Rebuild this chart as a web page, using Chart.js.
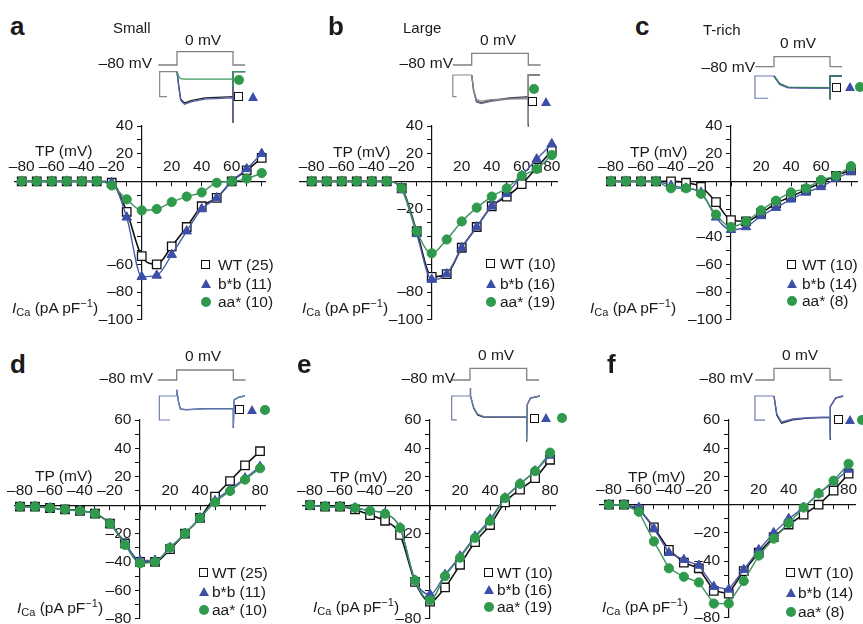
<!DOCTYPE html>
<html>
<head>
<meta charset="utf-8">
<script src="https://cdn.jsdelivr.net/npm/chart.js@4.4.1/dist/chart.umd.min.js"></script>
<style>
html, body { margin: 0; padding: 0; background: #fff; overflow: hidden; }
#fig { position: relative; width: 863px; height: 624px; overflow: hidden; font-family: 'Liberation Sans', Arial, sans-serif; color: #1a1a1a; }
#fig canvas { position: absolute; }
.t { position: absolute; white-space: nowrap; line-height: 1; }
.sq { position: absolute; width: 7px; height: 7px; border: 1.3px solid #111; background: #fff; }
.tri { position: absolute; width: 0; height: 0; border-left: 5.5px solid transparent; border-right: 5.5px solid transparent; border-bottom: 9px solid #3d4ea8; }
.dot { position: absolute; width: 10px; height: 10px; border-radius: 50%; background: #2f9a4b; }
</style>
</head>
<body>
<div id="fig"></div>
<script>
// test potentials (mV)
const voltages = [-80, -70, -60, -50, -40, -30, -20, -10, 0, 10, 20, 30, 40, 50, 60, 70, 80];

// a - Small
const smallWT = [0, 0, 0, 0, 0, 0, -1, -22, -54, -60, -47, -33, -18, -12, 0, 8, 17];
const smallBB = [0, 0, 0, 0, 0, 0, -1, -26, -69, -68, -53, -36, -20, -12, 0, 9, 20];
const smallAA = [0, 0, 0, 0, 0, 0, -3, -13, -21, -20, -15, -11, -8, -1, 0, 2, 6];
// b - Large
const largeWT = [0, 0, 0, 0, 0, 0, -5, -36, -69, -67, -48, -33, -18, -11, -2, 10, 22];
const largeBB = [0, 0, 0, 0, 0, 0, -6, -38, -71, -67, -48, -33, -18, -9, 4, 16, 27];
const largeAA = [0, 0, 0, 0, 0, 0, -5, -36, -52, -42, -29, -19, -11, -5, 4, 9, 19];
// c - T-rich
const trichWT = [0, 0, 0, 0, 0, -1, -4, -15, -28, -29, -23, -16, -11, -6, -1, 4, 8];
const trichBB = [0, 0, 0, 0, -3, -5, -8, -26, -35, -33, -25, -19, -13, -8, -4, 2, 7];
const trichAA = [0, 0, 0, 0, -5, -5, -9, -24, -33, -29, -21, -14, -8, -5, 1, 4, 11];
// d
const dWT = [-1, -1, -2, -3, -4, -6, -13, -27, -40, -40, -31, -20, -9, 6, 17, 28, 38];
const dBB = [-1, -1, -2, -3, -4, -6, -13, -27, -39, -39, -30, -20, -9, 3, 11, 19, 27];
const dAA = [-1, -1, -2, -3, -4, -6, -13, -28, -41, -40, -30, -20, -9, 2, 10, 18, 26];
// e
const eWT = [0, -1, -1, -3, -7, -11, -21, -54, -68, -58, -42, -26, -14, 2, 11, 19, 32];
const eBB = [0, -1, -1, -2, -4, -6, -16, -53, -63, -49, -36, -22, -10, 5, 15, 24, 35];
const eAA = [0, -1, -1, -2, -4, -6, -16, -53, -67, -50, -37, -23, -11, 5, 15, 24, 37];
// f
const fWT = [0, 0, -3, -16, -32, -41, -45, -61, -63, -47, -34, -23, -14, -7, 0, 10, 22];
const fBB = [0, 0, -2, -17, -34, -39, -43, -58, -60, -46, -32, -20, -10, -2, 8, 16, 25];
const fAA = [0, 0, -5, -26, -45, -51, -55, -70, -70, -54, -36, -24, -13, -2, 8, 17, 29];

// tick labels that are printed (others hidden behind data in the original)
const xTicksA = [-80, -60, -40, -20, 20, 40, 60];
const xTicksB = [-80, -60, -40, -20, 20, 40, 60, 80];
const xTicksC = [-80, -60, -40, -20, 20, 40, 60];
const xTicksD = [-80, -60, -40, -20, 20, 40, 80];
const xTicksE = [-80, -60, -40, -20, 20, 40, 80];
const xTicksF = [-80, -60, -40, -20, 20, 40, 80];
const yTicksA = [40, 20, -60, -80, -100];
const yTicksB = [40, 20, -20, -80, -100];
const yTicksC = [40, 20, -40, -60, -80, -100];
const yTicksD = [60, 40, 20, -20, -40, -60, -80];
const yTicksE = [60, 40, 20, -20, -80];
const yTicksF = [60, 40, 20, -20, -40, -80];

const legendA = ['WT (25)', 'b*b (11)', 'aa* (10)'];
const legendB = ['WT (10)', 'b*b (16)', 'aa* (19)'];
const legendC = ['WT (10)', 'b*b (14)', 'aa* (8)'];

// inset: voltage protocol (ms, mV)
const protoTime = [-10, 0, 0, 30, 30, 36.5];
const protoVolt = [-80, -80, 0, 0, -80, -80];

// inset current traces (ms, normalised current)
const aBracketT = [0, -9.3, -9.3, -5.4];
const aBracketI = [0, 0, -1, -1];
const aTraceT = [0, 1, 2, 4, 8, 15, 30, 30, 30, 36.5];
const aTraceWT = [0, -0.6, -1.1, -1.25, -1.15, -1.05, -1.0, -2.05, 0, 0];
const aTraceBB = [0, -0.65, -1.15, -1.3, -1.2, -1.1, -1.05, -2.0, 0, 0];
const aTraceAA = [0, -0.2, -0.28, -0.3, -0.3, -0.3, -0.3, -0.6, 0, 0];

const bBracketT = [0, -10, -10, -8];
const bBracketI = [0, 0, -1, -1];
const bTraceT = [0, 1, 2.5, 5, 10, 20, 30, 30, 30, 36.2];
const bTraceWT = [0, -0.7, -1.2, -1.28, -1.18, -1.06, -1.0, -2.38, 0, 0];
const bTraceBB = [0, -0.72, -1.24, -1.32, -1.22, -1.1, -1.04, -2.3, 0, 0];
const bTraceAA = [0, -0.66, -1.12, -1.2, -1.14, -1.1, -1.1, -2.2, 0, 0];

const cBracketT = [0, -10.2, -10.2, -3.2];
const cBracketI = [0, 0, -1.97, -1.97];
const cTraceT = [0, 3, 7.5, 15, 30, 30, 30, 36.3];
const cTraceWT = [0, -0.7, -1.0, -1.02, -1.05, -2.1, 0, 0];
const cTraceBB = [0, -0.75, -1.05, -1.07, -1.08, -2.0, 0, 0];
const cTraceAA = [0, -0.68, -0.98, -1.0, -1.02, -2.0, 0, 0];

const dBracketT = [0, -9.2, -9.2, -3.5];
const dBracketI = [0, 0, -1.95, -1.95];
const dTraceT = [0, 0, 1, 2, 5, 15, 30, 30, 30.5, 33, 36.2];
const dTraceWT = [0, 0.5, -0.5, -1.05, -1.1, -1.02, -1.0, -2.6, -0.3, -0.1, 0];
const dTraceBB = [0, 0.5, -0.55, -1.08, -1.12, -1.05, -1.02, -2.5, -0.3, -0.1, 0];

const eBracketT = [0, -9.7, -9.7, -7];
const eBracketI = [0, 0, -1.14, -1.14];
const eTraceT = [0, 0, 0.5, 2, 4, 7, 30, 30, 30.3, 32, 37];
const eTraceWT = [0, 0.38, 0, -0.6, -0.9, -1.0, -1.0, -2.18, -0.4, -0.1, 0];
const eTraceBB = [0, 0.38, 0, -0.55, -0.86, -0.97, -0.98, -2.1, -0.4, -0.1, 0];

const fBracketT = [0, -10.2, -10.2, -4.8];
const fBracketI = [0, 0, -1.13, -1.13];
const fTraceT = [0, 1.5, 4.1, 10, 18, 30, 30, 30.3, 33, 37];
const fTraceWT = [0, -0.9, -1.28, -1.12, -1.04, -1.0, -2.07, -0.5, -0.1, 0];
const fTraceBB = [0, -0.85, -1.22, -1.08, -1.02, -0.98, -2.0, -0.5, -0.1, 0];

const FONT = "'Liberation Sans', Arial, sans-serif";
const fig = document.getElementById('fig');

const colors = {
    wt: '#111111',
    bb: '#3d4ea8',
    bbLine: '#4d5bab',
    aa: '#2f9a4b',
    aaLine: '#3f9163',
    proto: '#808080',
};

function fmt(v) {
    return v < 0 ? '\u2013' + Math.abs(v) : String(v);
}

function addCanvas(x, y, w, h) {
    const c = document.createElement('canvas');
    c.width = w;
    c.height = h;
    c.style.left = x + 'px';
    c.style.top = y + 'px';
    c.style.width = w + 'px';
    c.style.height = h + 'px';
    fig.appendChild(c);
    return c;
}

function series(values, kind, smooth) {
    const isWT = kind === 'wt';
    const col = isWT ? colors.wt : kind === 'bb' ? colors.bb : colors.aa;
    return {
        data: voltages.map((v, i) => ({ x: v, y: values[i] })),
        showLine: true,
        borderColor: isWT ? colors.wt : kind === 'bb' ? colors.bbLine : colors.aaLine,
        borderWidth: isWT ? 1.6 : 1.4,
        cubicInterpolationMode: smooth ? 'monotone' : 'default',
        tension: 0,
        pointStyle: isWT ? 'rect' : kind === 'bb' ? 'triangle' : 'circle',
        pointRadius: isWT ? 6 : kind === 'bb' ? 5.5 : 4.6,
        pointBackgroundColor: isWT ? '#fff' : col,
        pointBorderColor: col,
        pointBorderWidth: isWT ? 1.3 : 1,
        clip: false,
    };
}

function ivChart(p) {
    const padL = 45, padT = 22, padR = 25, padB = 12;
    const [l, t, r, b] = p.area;
    const canvas = addCanvas(l - padL, t - padT, r - l + padL + padR, b - t + padT + padB);
    const tickFont = { family: FONT, size: 15.5 };
    new Chart(canvas, {
        type: 'scatter',
        data: {
            datasets: [
                series(p.aa, 'aa', p.smooth),
                series(p.bb, 'bb', p.smooth),
                series(p.wt, 'wt', p.smooth),
            ],
        },
        options: {
            responsive: false,
            animation: false,
            devicePixelRatio: 1,
            layout: { padding: { left: padL, top: padT, right: padR, bottom: padB } },
            plugins: { legend: { display: false }, tooltip: { enabled: false } },
            scales: {
                x: {
                    type: 'linear',
                    position: { y: 0 },
                    min: p.xr[0],
                    max: p.xr[1],
                    border: { color: '#111', width: 1.2 },
                    grid: { drawOnChartArea: false, drawTicks: true, tickLength: 4, color: '#111' },
                    ticks: {
                        stepSize: 10,
                        includeBounds: false,
                        autoSkip: false,
                        maxRotation: 0,
                        padding: -28,
                        color: '#1a1a1a',
                        font: tickFont,
                        callback: (v) => (p.xTicks.includes(v) ? fmt(v) : ''),
                    },
                },
                y: {
                    type: 'linear',
                    position: { x: 0 },
                    min: p.yr[0],
                    max: p.yr[1],
                    border: { color: '#111', width: 1.2 },
                    grid: { drawOnChartArea: false, drawTicks: true, tickLength: 4, color: '#111' },
                    ticks: {
                        stepSize: 10,
                        includeBounds: false,
                        autoSkip: false,
                        color: '#1a1a1a',
                        font: tickFont,
                        callback: (v) => (p.yTicks.includes(v) ? fmt(v) + '  ' : ''),
                    },
                },
            },
        },
    });
}

function traceSet(times, values, color, axis, width) {
    return {
        data: times.map((tm, i) => ({ x: tm, y: values[i] })),
        showLine: true,
        borderColor: color,
        borderWidth: width || 1.3,
        pointRadius: 0,
        tension: 0,
        yAxisID: axis,
        clip: false,
    };
}

function insetChart(a, traces) {
    const canvas = addCanvas(a.l, a.t, a.r - a.l, a.b - a.t);
    const pxPerMs = (a.tDown - a.tUp) / 30;
    const pxPerMv = (a.vBase - a.vStep) / 80;
    new Chart(canvas, {
        type: 'scatter',
        data: {
            datasets: [traceSet(protoTime, protoVolt, colors.proto, 'v', 1.3)].concat(
                traces.map((tr) => traceSet(tr[0], tr[1], tr[2], 'i', tr[3]))
            ),
        },
        options: {
            responsive: false,
            animation: false,
            devicePixelRatio: 1,
            layout: { padding: 0 },
            plugins: { legend: { display: false }, tooltip: { enabled: false } },
            scales: {
                x: { type: 'linear', display: false, min: (a.l - a.tUp) / pxPerMs, max: (a.r - a.tUp) / pxPerMs },
                v: {
                    type: 'linear', display: false, axis: 'y',
                    min: -80 - (a.b - a.vBase) / pxPerMv,
                    max: (a.vStep - a.t) / pxPerMv,
                },
                i: {
                    type: 'linear', display: false, axis: 'y',
                    min: -(a.b - a.iBase) / a.iUnit,
                    max: (a.iBase - a.t) / a.iUnit,
                },
            },
        },
    });
}

function text(html, x, baseline, size, opts) {
    const o = opts || {};
    const d = document.createElement('div');
    d.className = 't';
    d.innerHTML = html;
    d.style.fontSize = size + 'px';
    d.style.left = x + 'px';
    d.style.top = (baseline - 0.8465 * size) + 'px';
    if (o.bold) d.style.fontWeight = 'bold';
    if (o.right) d.style.transform = 'translateX(-100%)';
    fig.appendChild(d);
}

function marker(kind, cx, cy) {
    const d = document.createElement('div');
    if (kind === 'wt') {
        d.className = 'sq';
        d.style.left = (cx - 4.8) + 'px';
        d.style.top = (cy - 4.8) + 'px';
    } else if (kind === 'bb') {
        d.className = 'tri';
        d.style.left = (cx - 5.5) + 'px';
        d.style.top = (cy - 5) + 'px';
    } else {
        d.className = 'dot';
        d.style.left = (cx - 5) + 'px';
        d.style.top = (cy - 5) + 'px';
    }
    fig.appendChild(d);
}

function legend(labels, symX, textX, rows) {
    ['wt', 'bb', 'aa'].forEach((k, i) => {
        marker(k, symX, rows[i]);
        text(labels[i], textX, rows[i] + 5.5, 15.5);
    });
}

const icaLabel = '<i>I</i><span style="font-size:11px;position:relative;top:3px">Ca</span> (pA pF<span style="font-size:11px;position:relative;top:-6px">\u22121</span>)';

// ---------- panels ----------
const panels = [
    {
        letter: 'a', letterPos: [10, 35], title: 'Small', titlePos: [113, 33],
        area: [15, 126, 265, 320], xr: [-84.5, 82.2], yr: [-100, 40],
        wt: smallWT, bb: smallBB, aa: smallAA, smooth: true,
        xTicks: xTicksA, yTicks: yTicksA,
        legend: legendA, legendPos: [206, 218, [265, 283.5, 302]],
        tpPos: [35, 156], icaPos: [12, 313],
        zeroPos: [185, 45], minusPos: [152, 68],
        inset: { l: 150, r: 250, t: 45, b: 127, tUp: 177, tDown: 233, vBase: 65, vStep: 51.7, iBase: 71.7, iUnit: 25 },
        traces: [
            [aBracketT, aBracketI, '#888', 1.2],
            [aTraceT, aTraceAA, '#3a9a5a', 1.3],
            [aTraceT, aTraceBB, '#5662b0', 1.3],
            [aTraceT, aTraceWT, '#222', 1.3],
        ],
        insetMarks: [['aa', 239, 80], ['wt', 239, 96.7], ['bb', 253, 96.7]],
    },
    {
        letter: 'b', letterPos: [328, 35], title: 'Large', titlePos: [403, 33],
        area: [300, 126, 557, 320], xr: [-87.8, 83.5], yr: [-100, 40],
        wt: largeWT, bb: largeBB, aa: largeAA, smooth: true,
        xTicks: xTicksB, yTicks: yTicksB,
        legend: legendB, legendPos: [491, 500, [264, 283.5, 302]],
        tpPos: [333, 157], icaPos: [302, 313],
        zeroPos: [480, 45], minusPos: [453, 68.3],
        inset: { l: 445, r: 545, t: 45, b: 130, tUp: 471.7, tDown: 528.3, vBase: 65, vStep: 53.3, iBase: 75, iUnit: 21.7 },
        traces: [
            [bBracketT, bBracketI, '#888', 1.2],
            [bTraceT, bTraceAA, '#8a8a8a', 1.3],
            [bTraceT, bTraceBB, '#6a6f8a', 1.3],
            [bTraceT, bTraceWT, '#444', 1.3],
        ],
        insetMarks: [['aa', 534, 89.3], ['wt', 533, 101.7], ['bb', 546.7, 101.7]],
    },
    {
        letter: 'c', letterPos: [635, 35], title: 'T-rich', titlePos: [703, 35],
        area: [608, 126, 857, 320], xr: [-82, 84], yr: [-100, 40],
        wt: trichWT, bb: trichBB, aa: trichAA, smooth: true,
        xTicks: xTicksC, yTicks: yTicksC,
        legend: legendC, legendPos: [792, 802, [265, 283.5, 300.5]],
        tpPos: [630, 157], icaPos: [590, 313],
        zeroPos: [780, 48], minusPos: [755, 71.7],
        inset: { l: 750, r: 850, t: 50, b: 105, tUp: 774, tDown: 830, vBase: 66.7, vStep: 56.7, iBase: 76, iUnit: 11.3 },
        traces: [
            [cBracketT, cBracketI, '#6f7bb0', 1.2],
            [cTraceT, cTraceAA, '#3c7a6a', 1.3],
            [cTraceT, cTraceBB, '#5662b0', 1.3],
            [cTraceT, cTraceWT, '#1c1c3a', 1.3],
        ],
        insetMarks: [['wt', 836.7, 87.3], ['bb', 850, 87.3], ['aa', 860, 87.3]],
    },
    {
        letter: 'd', letterPos: [10, 373], title: '', titlePos: [0, 0],
        area: [15, 420, 265, 619], xr: [-83.3, 83.3], yr: [-80, 60],
        wt: dWT, bb: dBB, aa: dAA, smooth: true,
        xTicks: xTicksD, yTicks: yTicksD,
        legend: legendA, legendPos: [204, 212, [573, 592, 610]],
        tpPos: [35, 481], icaPos: [17, 613],
        zeroPos: [185, 361], minusPos: [153, 383],
        inset: { l: 150, r: 250, t: 360, b: 432, tUp: 176.7, tDown: 233.3, vBase: 380, vStep: 370, iBase: 396, iUnit: 12.3 },
        traces: [
            [dBracketT, dBracketI, '#7080b0', 1.2],
            [dTraceT, dTraceBB, '#6a86c0', 1.3],
            [dTraceT, dTraceWT, '#26305a', 1.3],
        ],
        insetMarks: [['wt', 240, 410], ['bb', 252.3, 410], ['aa', 265, 410]],
    },
    {
        letter: 'e', letterPos: [297, 373], title: '', titlePos: [0, 0],
        area: [303, 420, 555, 619], xr: [-84.7, 83.3], yr: [-80, 60],
        wt: eWT, bb: eBB, aa: eAA, smooth: true,
        xTicks: xTicksE, yTicks: yTicksE,
        legend: legendB, legendPos: [489, 497, [573, 590, 607]],
        tpPos: [330, 482], icaPos: [313, 612],
        zeroPos: [478, 360], minusPos: [455, 383],
        inset: { l: 445, r: 545, t: 360, b: 445, tUp: 470, tDown: 526.7, vBase: 380, vStep: 368.3, iBase: 396, iUnit: 21 },
        traces: [
            [eBracketT, eBracketI, '#7080a8', 1.2],
            [eTraceT, eTraceBB, '#6a7fa8', 1.3],
            [eTraceT, eTraceWT, '#2c3648', 1.3],
        ],
        insetMarks: [['wt', 534.3, 418.3], ['bb', 546.7, 418.3], ['aa', 561.7, 418.3]],
    },
    {
        letter: 'f', letterPos: [607, 373], title: '', titlePos: [0, 0],
        area: [600, 420, 855, 618], xr: [-86, 84.3], yr: [-80, 60],
        wt: fWT, bb: fBB, aa: fAA, smooth: false,
        xTicks: xTicksF, yTicks: yTicksF,
        legend: legendC, legendPos: [791, 798, [573, 593, 612]],
        tpPos: [628, 482], icaPos: [602, 612],
        zeroPos: [782, 360], minusPos: [753, 383],
        inset: { l: 750, r: 850, t: 360, b: 445, tUp: 774, tDown: 830, vBase: 380, vStep: 368.3, iBase: 396, iUnit: 21.3 },
        traces: [
            [fBracketT, fBracketI, '#6f7bb0', 1.2],
            [fTraceT, fTraceBB, '#5a68b0', 1.3],
            [fTraceT, fTraceWT, '#1c2238', 1.3],
        ],
        insetMarks: [['wt', 838.3, 420], ['bb', 850, 420], ['aa', 861.7, 420]],
    },
];

for (const p of panels) {
    insetChart(p.inset, p.traces);
    ivChart(p);
    text(p.letter, p.letterPos[0], p.letterPos[1], 26, { bold: true });
    if (p.title) text(p.title, p.titlePos[0], p.titlePos[1], 15);
    text('0 mV', p.zeroPos[0], p.zeroPos[1], 15.5);
    text('\u201380 mV', p.minusPos[0], p.minusPos[1], 15.5, { right: true });
    text('TP (mV)', p.tpPos[0], p.tpPos[1], 15.5);
    text(icaLabel, p.icaPos[0], p.icaPos[1], 15.5);
    legend(p.legend, p.legendPos[0], p.legendPos[1], p.legendPos[2]);
    for (const m of p.insetMarks) marker(m[0], m[1], m[2]);
}
</script>
</body>
</html>
